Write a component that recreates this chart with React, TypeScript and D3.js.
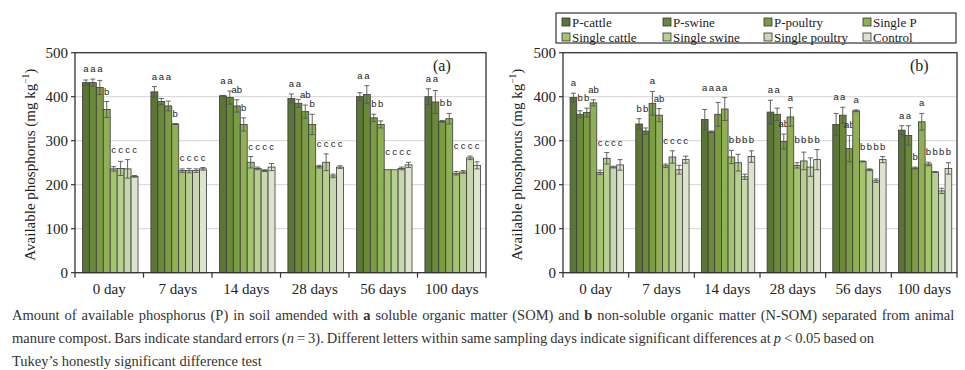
import React from "react";
import * as d3 from "d3";

const days = ["0 day", "7 days", "14 days", "28 days", "56 days", "100 days"];
const treatments = ["P-cattle", "P-swine", "P-poultry", "Single P", "Single cattle", "Single swine", "Single poultry", "Control"];
const yTicks = [0, 100, 200, 300, 400, 500];

// (a) soluble organic matter, one row per sampling day, columns follow `treatments`
const somMeans = [
  [432, 432, 421, 371, 236, 237, 236, 219],
  [411, 389, 379, 338, 232, 232, 232, 236],
  [402, 398, 379, 337, 251, 237, 232, 240],
  [396, 385, 366, 337, 241, 251, 220, 240],
  [400, 405, 352, 337, 234, 234, 237, 245],
  [400, 388, 344, 350, 226, 229, 261, 244],
];
const somErrors = [
  [6, 8, 16, 18, 5, 16, 21, 2],
  [12, 7, 11, 1, 4, 5, 4, 3],
  [1, 15, 14, 15, 13, 3, 2, 8],
  [10, 9, 15, 23, 3, 19, 4, 3],
  [9, 20, 8, 8, 0, 0, 3, 6],
  [18, 26, 2, 12, 4, 3, 4, 8],
];
const somLetters = [
  "a a a b c c c c",
  "a a a b c c c c",
  "a a ab b c c c c",
  "a a ab b c c c c",
  "a a b b c c c c",
  "a a b b c c c c",
];

// (b) non-soluble organic matter
const nsomMeans = [
  [398, 360, 364, 386, 228, 260, 240, 245],
  [338, 322, 385, 358, 243, 263, 234, 257],
  [348, 320, 360, 372, 263, 250, 218, 264],
  [365, 360, 298, 354, 244, 254, 240, 257],
  [337, 358, 282, 368, 253, 234, 209, 257],
  [324, 312, 238, 343, 247, 229, 186, 237],
];
const nsomErrors = [
  [10, 8, 10, 7, 5, 13, 2, 12],
  [12, 7, 27, 15, 4, 14, 10, 8],
  [23, 2, 27, 26, 15, 19, 6, 13],
  [27, 14, 17, 21, 6, 20, 21, 23],
  [25, 18, 30, 2, 1, 2, 4, 7],
  [10, 22, 2, 19, 4, 1, 6, 13],
];
const nsomLetters = [
  "a b b ab c c c c",
  "b b a ab c c c c",
  "a a a a b b b b",
  "a a ab a b b b b",
  "a a ab a b b b b",
  "a a b a b b b b",
];

const colors = ["#5a7535", "#6a8a3a", "#7c9c44", "#8fb053", "#a4c46f", "#b8d08f", "#c9d7b1", "#dce4ce"];
const serif = "Liberation Serif, DejaVu Serif, serif";
const sans = "Liberation Sans, Arial, sans-serif";

const top = 52.7;
const bottom = 272.7;

function Panel({ left, right, means, errors, letters, tag, tagX, labelX }) {
  const x0 = d3.scaleBand().domain(days).range([left, right]).padding(0);
  const step = x0.bandwidth();
  const x1 = d3.scaleBand().domain(treatments).range([step * 0.108, step * 0.92]).padding(0);
  const y = d3.scaleLinear().domain([0, 500]).range([bottom, top]);

  return (
    <g>
      {yTicks.slice(1, -1).map(t => (
        <line key={"g" + t} x1={left} x2={right} y1={y(t)} y2={y(t)} stroke="#d4d4d4" strokeWidth={1} />
      ))}
      {days.map((day, di) => {
        const parts = letters[di].split(" ");
        // letters of a run of equal labels sit at the same height
        const tops = means[di].map((m, i) => m + errors[di][i]);
        const letterTop = parts.map((p, i) => {
          let a = i, b = i;
          while (a > 0 && parts[a - 1] === p) a--;
          while (b < parts.length - 1 && parts[b + 1] === p) b++;
          return d3.max(tops.slice(a, b + 1));
        });
        return (
          <g key={day} transform={`translate(${x0(day)},0)`}>
            {treatments.map((t, i) => {
              const m = means[di][i];
              const e = errors[di][i];
              const bx = x1(t);
              const bw = x1.bandwidth();
              const cx = bx + bw / 2;
              return (
                <g key={t}>
                  <rect x={bx} y={y(m)} width={bw} height={y(0) - y(m)} fill={colors[i]} stroke="#3a3a3a" strokeWidth={0.8} />
                  {e > 0 && (
                    <g stroke="#555" strokeWidth={0.9}>
                      <line x1={cx} x2={cx} y1={y(m - e)} y2={y(m + e)} />
                      <line x1={cx - 2.5} x2={cx + 2.5} y1={y(m + e)} y2={y(m + e)} />
                      <line x1={cx - 2.5} x2={cx + 2.5} y1={y(m - e)} y2={y(m - e)} />
                    </g>
                  )}
                  <text x={cx} y={y(letterTop[i]) - 7} textAnchor="middle" fontSize={9.5} fill="#222" style={{ fontFamily: sans }}>
                    {parts[i]}
                  </text>
                </g>
              );
            })}
          </g>
        );
      })}
      <rect x={left} y={top} width={right - left} height={bottom - top} fill="none" stroke="#333" strokeWidth={1.3} />
      {yTicks.map(t => (
        <g key={"t" + t}>
          <line x1={left - 4} x2={left} y1={y(t)} y2={y(t)} stroke="#333" strokeWidth={1.2} />
          <text x={left - 7} y={y(t) + 5} textAnchor="end" fontSize={15} fill="#222" style={{ fontFamily: serif }}>{t}</text>
        </g>
      ))}
      {d3.range(days.length + 1).map(i => (
        <line key={"c" + i} x1={left + i * step} x2={left + i * step} y1={bottom} y2={bottom + 5} stroke="#333" strokeWidth={1.2} />
      ))}
      {days.map(day => (
        <text key={"l" + day} x={x0(day) + step / 2} y={294} textAnchor="middle" fontSize={15} fill="#222" style={{ fontFamily: serif }}>{day}</text>
      ))}
      <text transform={`translate(${labelX},${(top + bottom) / 2 + 2}) rotate(-90)`} textAnchor="middle" fontSize={15} fill="#222" style={{ fontFamily: serif }}>
        Available phosphorus (mg kg<tspan dy={-6} fontSize={9.5}>−1</tspan><tspan dy={6}>)</tspan>
      </text>
      <text x={tagX} y={71} fontSize={16} fill="#222" style={{ fontFamily: serif }}>{tag}</text>
    </g>
  );
}

function Legend() {
  const cols = [566, 667, 768, 867];
  const rows = [22, 37];
  return (
    <g>
      <rect x={556} y={13} width={400} height={30} fill="#fff" stroke="#333" strokeWidth={1.2} />
      {treatments.map((t, i) => {
        const cx = cols[i % 4];
        const cy = rows[Math.floor(i / 4)];
        return (
          <g key={t}>
            <rect x={cx - 4} y={cy - 4} width={8} height={8} fill={colors[i]} stroke="#333" strokeWidth={0.8} />
            <text x={cx + 6} y={cy + 4.5} fontSize={13} fill="#222" style={{ fontFamily: serif }}>{t}</text>
          </g>
        );
      })}
    </g>
  );
}

export default function App() {
  return (
    <svg width={965} height={370} style={{ position: "absolute", left: 0, top: 0, background: "#fff" }}>
      <Panel left={75} right={486} means={somMeans} errors={somErrors} letters={somLetters} tag="(a)" tagX={433} labelX={35} />
      <Panel left={563} right={957} means={nsomMeans} errors={nsomErrors} letters={nsomLetters} tag="(b)" tagX={910} labelX={522} />
      <Legend />
      <g fontSize={14.5} fill="#333" style={{ fontFamily: serif }}>
        <text x={12} y={320} wordSpacing={1.3}>
          Amount of available phosphorus (P) in soil amended with <tspan fontWeight="bold">a</tspan> soluble organic matter (SOM) and <tspan fontWeight="bold">b</tspan> non-soluble organic matter (N-SOM) separated from animal
        </text>
        <text x={12} y={343} wordSpacing={-0.6}>
          manure compost. Bars indicate standard errors (<tspan fontStyle="italic">n</tspan> = 3). Different letters within same sampling days indicate significant differences at <tspan fontStyle="italic">p</tspan> &lt; 0.05 based on
        </text>
        <text x={12} y={366}>
          Tukey’s honestly significant difference test
        </text>
      </g>
    </svg>
  );
}
